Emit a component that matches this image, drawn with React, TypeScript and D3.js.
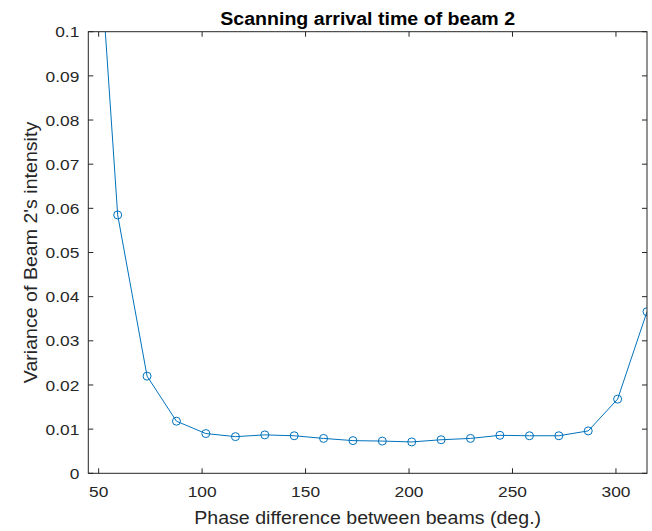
import React from "react";
import * as d3 from "d3";

// Scan of beam 2 arrival time: phase difference (deg.) vs. intensity variance
const phaseDeg = [
  45, 59.2, 73.4, 87.6, 101.8, 116.1, 130.3, 144.5, 158.7, 172.9,
  187.1, 201.3, 215.5, 229.7, 243.9, 258.2, 272.4, 286.6, 300.8, 315,
];
const variance = [
  0.157, 0.0585, 0.022, 0.0118, 0.009, 0.0083, 0.0087, 0.0085, 0.0079, 0.0074,
  0.0073, 0.0071, 0.0076, 0.0079, 0.0086, 0.0085, 0.0085, 0.0096, 0.0168, 0.0366,
];
const xTicks = [50, 100, 150, 200, 250, 300];
const yTicks = [0, 0.01, 0.02, 0.03, 0.04, 0.05, 0.06, 0.07, 0.08, 0.09, 0.1];

const W = 652;
const H = 531;
const plot = { left: 88.3, right: 647, top: 31.7, bottom: 473.3 };
const AXIS = "#262626";
const LINE = "#0072BD";
const FONT = "'Liberation Sans', Arial, Helvetica, sans-serif";
const TICK_LEN = 5;
// Slightly widened glyphs, like the figure's Helvetica
const STRETCH = 1.12;

function Label(props: {
  x: number;
  y: number;
  rotate?: number;
  anchor?: "start" | "middle" | "end";
  baseline?: string;
  size: number;
  weight?: string;
  fill?: string;
  children: React.ReactNode;
}) {
  const { x, y, rotate = 0, anchor = "middle", baseline, size, weight, fill = AXIS } = props;
  return (
    <text
      transform={`translate(${x},${y}) rotate(${rotate}) scale(${STRETCH},1)`}
      textAnchor={anchor}
      dominantBaseline={baseline}
      fontSize={size}
      fontWeight={weight}
      fill={fill}
    >
      {props.children}
    </text>
  );
}

export default function App() {
  const x = d3.scaleLinear().domain([45, 315]).range([plot.left, plot.right]);
  const y = d3.scaleLinear().domain([0, 0.1]).range([plot.bottom, plot.top]);
  const pts = phaseDeg.map((p, i) => [p, variance[i]] as [number, number]);
  const line = d3
    .line<[number, number]>()
    .x((d) => x(d[0]))
    .y((d) => y(d[1]));
  const cx = (plot.left + plot.right) / 2;
  const cy = (plot.top + plot.bottom) / 2;

  return (
    <svg
      width={W}
      height={H}
      style={{ position: "fixed", left: 0, top: 0, background: "#fff" }}
      fontFamily={FONT}
    >
      <rect x={0} y={0} width={W} height={H} fill="#fff" />
      <defs>
        <clipPath id="plot-clip">
          <rect
            x={plot.left}
            y={plot.top}
            width={plot.right - plot.left}
            height={plot.bottom - plot.top}
          />
        </clipPath>
      </defs>

      {/* data */}
      <g clipPath="url(#plot-clip)">
        <path d={line(pts) ?? ""} fill="none" stroke={LINE} strokeWidth={1} />
        {pts.map((d, i) => (
          <circle
            key={i}
            cx={x(d[0])}
            cy={y(d[1])}
            r={4}
            fill="none"
            stroke={LINE}
            strokeWidth={1}
          />
        ))}
      </g>

      {/* box and ticks */}
      <g stroke={AXIS} strokeWidth={1} fill="none">
        <rect
          x={plot.left}
          y={plot.top}
          width={plot.right - plot.left}
          height={plot.bottom - plot.top}
        />
        {xTicks.map((t) => (
          <g key={"xt" + t}>
            <line x1={x(t)} x2={x(t)} y1={plot.bottom} y2={plot.bottom - TICK_LEN} />
            <line x1={x(t)} x2={x(t)} y1={plot.top} y2={plot.top + TICK_LEN} />
          </g>
        ))}
        {yTicks.map((t) => (
          <g key={"yt" + t}>
            <line x1={plot.left} x2={plot.left + TICK_LEN} y1={y(t)} y2={y(t)} />
            <line x1={plot.right} x2={plot.right - TICK_LEN} y1={y(t)} y2={y(t)} />
          </g>
        ))}
      </g>

      {/* tick labels */}
      {xTicks.map((t) => (
        <Label key={"xl" + t} x={x(t)} y={plot.bottom + 24} size={15.5}>
          {t}
        </Label>
      ))}
      {yTicks.map((t) => (
        <Label
          key={"yl" + t}
          x={plot.left - 9}
          y={y(t)}
          anchor="end"
          baseline="central"
          size={15.5}
        >
          {d3.format("~g")(t)}
        </Label>
      ))}

      {/* axis labels and title */}
      <Label x={cx} y={plot.bottom + 51} size={17.5}>
        Phase difference between beams (deg.)
      </Label>
      <Label x={37} y={cy} rotate={-90} size={17.5}>
        Variance of Beam 2's intensity
      </Label>
      <Label x={cx} y={25} size={17.5} weight="bold" fill="#000">
        Scanning arrival time of beam 2
      </Label>
    </svg>
  );
}
